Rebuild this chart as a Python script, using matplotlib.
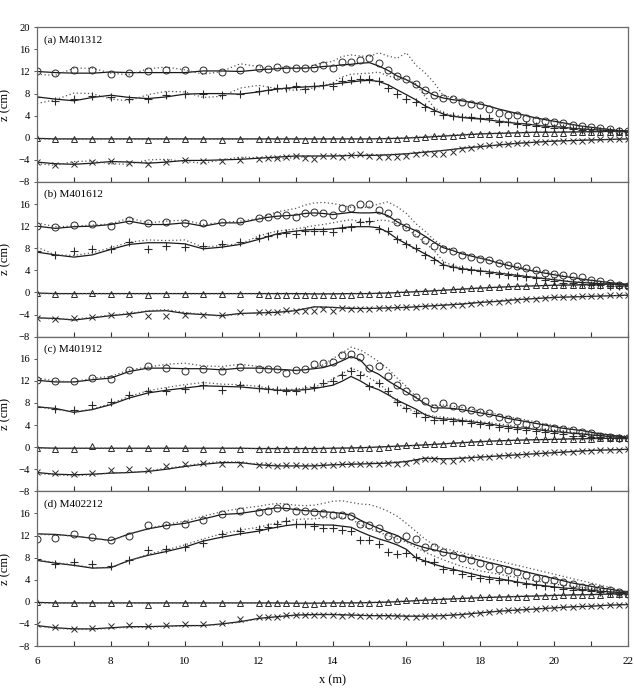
import matplotlib
matplotlib.use('Agg')
import matplotlib.pyplot as plt
from matplotlib.ticker import FixedLocator

plt.rcParams['font.family'] = ['Liberation Serif', 'DejaVu Serif']

# measurement x positions (m)
X = [6, 6.5, 7, 7.5, 8, 8.5, 9, 9.5, 10, 10.5, 11, 11.5, 12,
     12.25, 12.5, 12.75, 13, 13.25, 13.5, 13.75, 14, 14.25, 14.5, 14.75, 15,
     15.25, 15.5, 15.75, 16, 16.25, 16.5, 16.75, 17, 17.25, 17.5, 17.75, 18,
     18.25, 18.5, 18.75, 19, 19.25, 19.5, 19.75, 20, 20.25, 20.5, 20.75, 21,
     21.25, 21.5, 21.75, 22]
# coarse x positions for the lower two model curves
XC = [6, 6.5, 7, 7.5, 8, 8.5, 9, 9.5, 10, 10.5, 11, 11.5, 12, 12.5, 13, 13.5,
      14, 14.5, 15, 15.5, 16, 16.5, 17, 17.5, 18, 18.5, 19, 19.5, 20, 20.5,
      21, 21.5, 22]

labels = ["(a) M401312", "(b) M401612", "(c) M401912", "(d) M402212"]

# ---------------- panel (a) ----------------
a_o = [12.0, 11.8, 12.2, 12.3, 11.5, 11.7, 12.0, 12.2, 12.2, 12.2, 11.9, 12.2, 12.6,
       12.4, 12.9, 12.4, 12.7, 12.6, 12.7, 13.2, 12.7, 13.8, 13.8, 14.0, 14.4,
       13.6, 12.3, 11.2, 10.7, 9.7, 8.7, 7.8, 7.2, 7.0, 6.5, 6.2, 5.9,
       5.3, 4.5, 4.2, 4.1, 3.6, 3.3, 3.0, 2.8, 2.6, 2.4, 2.1, 2.0, 1.8, 1.5, 1.3, 1.2]
a_o_s = [12.0, 11.8, 11.7, 11.7, 11.9, 11.8, 11.8, 11.8, 11.8, 12.1, 12.1, 12.0, 12.3,
         12.4, 12.5, 12.6, 12.6, 12.6, 12.7, 12.9, 13.0, 13.2, 13.3, 13.5, 13.6,
         13.0, 12.2, 11.2, 10.5, 9.6, 8.6, 7.7, 7.2, 6.9, 6.7, 6.4, 6.1,
         5.7, 5.2, 4.8, 4.4, 4.0, 3.6, 3.3, 3.0, 2.7, 2.4, 2.1, 1.9, 1.7, 1.5, 1.3, 1.2]
a_o_d = [11.5, 11.3, 12.6, 12.6, 11.7, 11.4, 12.5, 12.8, 12.3, 11.5, 12.0, 13.4, 12.9,
         12.4, 12.6, 12.8, 12.7, 12.7, 13.2, 13.6, 13.8, 14.7, 15.0, 14.8, 14.7,
         15.4, 14.8, 14.4, 15.4, 13.2, 11.8, 10.0, 7.6, 7.3, 6.8, 6.5, 6.1,
         5.6, 5.1, 4.7, 4.3, 3.9, 3.5, 3.2, 2.9, 2.6, 2.3, 2.1, 1.9, 1.7, 1.5, 1.3, 1.2]
a_p = [7.4, 6.7, 7.0, 7.6, 7.3, 7.1, 7.1, 7.7, 8.0, 8.0, 7.8, 7.9, 8.4,
       8.7, 9.0, 9.1, 9.3, 8.9, 9.3, 9.5, 9.3, 10.3, 10.4, 10.7, 10.7,
       10.3, 9.1, 7.9, 7.1, 6.4, 5.6, 4.8, 4.1, 3.9, 3.8, 3.8, 3.6,
       3.5, 2.9, 2.8, 2.5, 2.4, 2.2, 1.9, 1.8, 1.7, 1.5, 1.4, 1.3, 1.3, 1.2, 1.15, 1.1]
a_p_s = [7.4, 7.0, 6.7, 7.3, 7.7, 7.3, 7.1, 7.4, 7.9, 8.0, 8.0, 7.9, 8.3,
         8.6, 8.8, 9.0, 9.1, 9.2, 9.3, 9.4, 9.7, 9.9, 10.1, 10.3, 10.4,
         10.2, 9.6, 8.7, 7.8, 6.9, 5.8, 5.0, 4.3, 3.9, 3.7, 3.5, 3.4,
         3.2, 3.0, 2.8, 2.6, 2.5, 2.3, 2.1, 2.0, 1.9, 1.7, 1.6, 1.5, 1.4, 1.3, 1.3, 1.2]
a_p_d = [6.2, 6.9, 8.1, 8.0, 7.0, 6.7, 7.8, 8.4, 8.3, 7.3, 7.5, 9.0, 9.5,
         9.2, 8.9, 8.7, 8.6, 8.8, 9.0, 9.4, 9.9, 11.0, 11.5, 11.6, 11.7,
         11.9, 11.2, 10.8, 10.6, 9.8, 7.5, 5.5, 4.5, 4.1, 3.9, 3.7, 3.5,
         3.3, 3.1, 2.9, 2.7, 2.5, 2.3, 2.2, 2.0, 1.9, 1.7, 1.6, 1.5, 1.4, 1.3, 1.3, 1.2]
a_t = [-0.1, -0.2, -0.3, -0.3, -0.2, -0.2, -0.4, -0.3, -0.3, -0.3, -0.4, -0.3, -0.3,
       -0.3, -0.3, -0.3, -0.3, -0.4, -0.3, -0.3, -0.3, -0.3, -0.3, -0.3, -0.3,
       -0.3, -0.2, -0.2, -0.1, 0.0, 0.2, 0.3, 0.3, 0.4, 0.5, 0.6, 0.6,
       0.7, 0.7, 0.8, 0.8, 0.8, 0.8, 0.9, 0.9, 0.9, 1.0, 1.0, 1.0, 1.0, 1.0, 1.1, 1.1]
a_t_s = [-0.1, -0.2, -0.2, -0.2, -0.2, -0.2, -0.2, -0.2, -0.2, -0.2, -0.2, -0.2, -0.2,
         -0.2, -0.2, -0.2, -0.2, -0.2, -0.2, -0.15, -0.05, 0.1, 0.3, 0.5, 0.7, 0.8,
         0.9, 1.0, 1.0, 1.05, 1.1, 1.15, 1.2]
a_t_d = [-0.2, -0.25, -0.3, -0.25, -0.2, -0.25, -0.3, -0.25, -0.2, -0.25, -0.3, -0.25,
         -0.2, -0.25, -0.2, -0.2, -0.2, -0.2, -0.15, -0.1, 0.0, 0.2, 0.4, 0.6, 0.75,
         0.85, 0.95, 1.0, 1.05, 1.1, 1.1, 1.15, 1.2]
a_x = [-4.4, -5.0, -4.8, -4.4, -4.2, -4.5, -4.8, -4.4, -4.1, -4.2, -4.2, -4.1, -3.8,
       -3.6, -3.6, -3.5, -3.3, -3.6, -3.8, -3.3, -3.3, -3.5, -3.2, -2.9, -3.3,
       -3.5, -3.5, -3.5, -3.3, -3.0, -2.7, -2.85, -2.85, -2.6, -2.1, -1.8, -1.5,
       -1.3, -1.2, -1.1, -0.9, -0.9, -0.8, -0.7, -0.7, -0.6, -0.5, -0.5, -0.4,
       -0.3, -0.3, -0.3, -0.2]
a_x_s = [-4.4, -4.7, -4.8, -4.6, -4.3, -4.4, -4.6, -4.4, -4.1, -4.1, -4.0, -3.9, -3.7,
         -3.5, -3.3, -3.3, -3.3, -3.2, -3.2, -3.1, -2.9, -2.6, -2.3, -1.9, -1.6,
         -1.3, -1.0, -0.8, -0.6, -0.5, -0.4, -0.3, -0.2]
a_x_d = [-4.7, -5.0, -4.3, -4.2, -4.7, -4.8, -4.0, -3.9, -4.3, -4.6, -4.0, -3.5, -3.6,
         -3.8, -3.6, -3.3, -3.2, -3.2, -3.1, -3.0, -2.9, -2.6, -2.3, -1.9, -1.6,
         -1.3, -1.0, -0.8, -0.6, -0.5, -0.4, -0.3, -0.2]

# ---------------- panel (b) ----------------
b_o = [12.0, 11.8, 12.2, 12.4, 12.1, 13.1, 12.5, 12.7, 12.5, 12.5, 12.8, 12.9, 13.5,
       13.6, 14.1, 14.1, 13.7, 14.4, 14.5, 14.4, 14.1, 15.3, 15.2, 16.1, 16.1,
       15.0, 14.3, 12.7, 11.9, 10.7, 9.5, 8.5, 7.9, 7.5, 6.8, 6.4, 6.1,
       5.8, 5.3, 5.0, 4.7, 4.4, 4.1, 3.6, 3.3, 3.2, 2.9, 2.8, 2.3, 2.0, 1.7, 1.4, 1.2]
b_o_s = [12.0, 11.6, 11.9, 12.0, 12.3, 12.9, 12.3, 12.3, 12.6, 12.0, 12.6, 12.6, 13.3,
         13.6, 13.8, 13.9, 14.0, 14.3, 14.4, 14.3, 14.1, 14.3, 14.5, 14.4, 14.4,
         14.5, 13.9, 12.8, 11.9, 11.2, 10.2, 9.1, 8.1, 7.6, 7.0, 6.6, 6.2,
         5.8, 5.3, 4.9, 4.5, 4.1, 3.8, 3.5, 3.2, 2.9, 2.7, 2.4, 2.2, 2.0, 1.8, 1.6, 1.4]
b_o_d = [12.6, 11.9, 12.0, 12.2, 12.4, 13.5, 12.6, 12.9, 13.1, 12.3, 12.7, 12.9, 13.4,
         14.0, 14.6, 14.9, 15.2, 15.8, 16.2, 16.3, 16.1, 15.8, 15.4, 15.3, 15.5,
         16.0, 16.4, 15.5, 14.3, 12.5, 11.1, 9.5, 8.4, 7.7, 7.1, 6.7, 6.3,
         5.9, 5.5, 5.1, 4.7, 4.3, 4.0, 3.7, 3.4, 3.1, 2.8, 2.5, 2.3, 2.0, 1.8, 1.6, 1.4]
b_p = [7.5, 6.8, 7.5, 7.8, 7.9, 9.1, 7.9, 8.4, 8.2, 8.4, 8.8, 9.2, 9.8,
       10.2, 10.6, 10.8, 10.5, 11.1, 11.1, 11.1, 11.0, 11.7, 11.9, 12.8, 12.9,
       11.5, 11.1, 9.6, 8.8, 8.1, 6.7, 5.9, 5.0, 4.6, 4.2, 4.1, 3.8,
       3.6, 3.4, 3.2, 3.0, 2.8, 2.6, 2.3, 2.1, 1.8, 1.7, 1.5, 1.4, 1.3, 1.2, 1.15, 1.1]
b_p_s = [7.3, 6.8, 6.4, 6.8, 7.8, 8.7, 9.0, 9.0, 8.8, 7.9, 8.2, 8.7, 9.6,
         10.1, 10.6, 10.9, 11.1, 11.3, 11.4, 11.4, 11.5, 11.7, 11.9, 11.9, 11.9,
         11.7, 10.9, 9.7, 8.8, 7.9, 7.0, 6.1, 5.0, 4.6, 4.3, 4.1, 3.9,
         3.7, 3.5, 3.3, 3.1, 2.9, 2.7, 2.5, 2.3, 2.1, 1.9, 1.8, 1.7, 1.6, 1.5, 1.4, 1.3]
b_p_d = [8.2, 6.8, 6.7, 7.2, 8.1, 9.1, 9.5, 9.4, 9.5, 8.2, 8.5, 8.8, 10.2,
         10.7, 11.1, 11.3, 11.5, 11.8, 12.1, 12.3, 12.6, 12.9, 13.2, 12.8, 12.6,
         13.1, 13.0, 12.4, 11.6, 10.4, 9.0, 7.6, 5.6, 4.9, 4.5, 4.2, 4.0,
         3.8, 3.6, 3.4, 3.2, 3.0, 2.8, 2.6, 2.4, 2.2, 2.0, 1.9, 1.8, 1.7, 1.6, 1.5, 1.4]
b_t = [-0.1, -0.3, -0.3, -0.1, -0.3, -0.3, -0.4, -0.3, -0.3, -0.3, -0.3, -0.3, -0.3,
       -0.4, -0.4, -0.4, -0.4, -0.4, -0.4, -0.4, -0.4, -0.4, -0.4, -0.3, -0.3,
       -0.3, -0.2, -0.1, 0.0, 0.1, 0.2, 0.2, 0.4, 0.6, 0.6, 0.8, 0.8,
       0.9, 1.0, 1.1, 1.1, 1.2, 1.3, 1.3, 1.3, 1.4, 1.4, 1.4, 1.4, 1.4, 1.4, 1.4, 1.4]
b_t_s = [-0.1, -0.2, -0.2, -0.2, -0.2, -0.2, -0.2, -0.2, -0.2, -0.2, -0.2, -0.2, -0.2,
         -0.2, -0.2, -0.25, -0.25, -0.2, -0.2, -0.1, 0.05, 0.2, 0.4, 0.6, 0.8, 0.95,
         1.1, 1.2, 1.3, 1.35, 1.4, 1.5, 1.5]
b_t_d = [-0.2, -0.25, -0.25, -0.2, -0.25, -0.25, -0.25, -0.2, -0.25, -0.25, -0.25, -0.2,
         -0.25, -0.25, -0.3, -0.3, -0.3, -0.25, -0.2, -0.1, 0.1, 0.25, 0.45, 0.65, 0.85,
         1.0, 1.1, 1.2, 1.3, 1.35, 1.4, 1.45, 1.5]
b_x = [-4.7, -4.8, -4.7, -4.4, -4.0, -3.9, -4.2, -4.2, -4.1, -4.1, -4.1, -3.6, -3.5,
       -3.5, -3.5, -3.2, -3.3, -3.3, -3.3, -3.0, -3.3, -2.8, -3.0, -3.0, -3.0,
       -2.8, -2.8, -2.7, -2.7, -2.7, -2.5, -2.5, -2.5, -2.2, -2.2, -2.1, -1.9,
       -1.8, -1.7, -1.5, -1.3, -1.2, -1.1, -1.0, -0.9, -0.85, -0.8, -0.7, -0.7,
       -0.6, -0.55, -0.5, -0.4]
b_x_s = [-4.6, -4.7, -5.0, -4.6, -4.2, -3.9, -3.4, -3.3, -3.8, -4.0, -4.2, -3.8, -3.7,
         -3.6, -3.3, -2.6, -2.7, -2.9, -2.9, -2.8, -2.7, -2.5, -2.3, -2.1, -1.8,
         -1.6, -1.3, -1.1, -0.9, -0.8, -0.7, -0.6, -0.5]
b_x_d = [-4.5, -4.9, -4.8, -4.5, -4.1, -3.8, -3.3, -3.1, -3.6, -4.0, -4.3, -3.9, -3.7,
         -3.5, -3.2, -2.7, -2.7, -2.8, -2.9, -2.8, -2.7, -2.5, -2.3, -2.1, -1.8,
         -1.6, -1.3, -1.1, -0.9, -0.8, -0.7, -0.6, -0.5]

# ---------------- panel (c) ----------------
c_o = [12.1, 11.9, 11.9, 12.6, 12.4, 13.9, 14.6, 14.3, 13.8, 14.2, 13.7, 14.5, 14.1,
       14.1, 14.1, 13.5, 14.0, 14.1, 15.0, 15.2, 15.5, 16.7, 16.9, 16.3, 14.3,
       14.6, 12.8, 11.3, 10.2, 9.1, 8.3, 7.1, 8.0, 7.5, 7.1, 6.8, 6.4,
       6.2, 5.4, 5.1, 4.7, 4.1, 4.1, 3.7, 3.5, 3.2, 3.1, 2.8, 2.5, 2.1, 1.9, 1.7, 1.6]
c_o_s = [12.1, 11.8, 11.8, 12.2, 12.5, 13.7, 14.3, 14.3, 14.2, 14.2, 14.0, 14.3, 14.3,
         14.2, 14.1, 14.0, 13.9, 14.0, 14.2, 14.4, 14.9, 15.6, 16.4, 15.8, 14.0,
         13.2, 12.0, 11.0, 10.0, 9.0, 7.9, 7.1, 7.1, 7.0, 6.8, 6.5, 6.2,
         5.9, 5.6, 5.2, 4.9, 4.6, 4.3, 4.0, 3.7, 3.4, 3.2, 3.0, 2.7, 2.4, 2.2, 2.0, 1.8]
c_o_d = [12.5, 12.0, 11.8, 12.5, 12.8, 14.0, 14.5, 15.0, 15.2, 14.7, 14.6, 15.0, 14.6,
         14.3, 14.0, 13.8, 13.8, 14.1, 14.4, 14.9, 16.0, 17.0, 18.1, 17.6, 16.6,
         15.5, 14.2, 12.5, 11.0, 9.2, 7.9, 7.6, 7.6, 7.4, 7.2, 6.9, 6.5,
         6.2, 5.9, 5.5, 5.2, 4.9, 4.6, 4.2, 3.9, 3.6, 3.3, 3.0, 2.8, 2.5, 2.3, 2.1, 2.0]
c_p = [7.3, 6.9, 6.8, 7.7, 8.1, 9.5, 10.1, 10.2, 10.5, 11.3, 10.3, 11.3, 10.7,
       10.5, 10.3, 10.1, 10.2, 10.5, 10.9, 11.6, 11.9, 13.1, 13.7, 13.1, 11.1,
       11.6, 10.1, 8.1, 7.1, 6.2, 5.5, 5.0, 5.0, 4.8, 4.7, 4.4, 4.1,
       4.0, 3.7, 3.5, 3.3, 3.1, 2.9, 2.7, 2.6, 2.3, 2.1, 2.0, 1.9, 1.8, 1.7, 1.6, 1.6]
c_p_s = [7.3, 7.0, 6.3, 6.8, 7.7, 8.9, 9.8, 10.3, 10.7, 11.1, 11.0, 10.9, 10.6,
         10.5, 10.3, 10.3, 10.3, 10.4, 10.6, 10.9, 11.2, 11.9, 12.8, 12.0, 11.0,
         10.4, 9.5, 8.5, 7.7, 6.9, 5.9, 5.3, 5.1, 5.0, 4.8, 4.6, 4.4,
         4.2, 3.9, 3.7, 3.5, 3.4, 3.2, 3.0, 2.8, 2.7, 2.5, 2.4, 2.2, 2.1, 1.9, 1.8, 1.7]
c_p_d = [7.3, 6.8, 6.4, 6.9, 7.9, 9.2, 10.2, 10.8, 11.3, 11.7, 11.4, 11.3, 11.0,
         10.7, 10.5, 10.4, 10.5, 10.7, 11.0, 11.3, 12.3, 13.2, 14.3, 13.7, 12.5,
         11.6, 10.0, 7.9, 7.0, 6.4, 5.9, 5.6, 5.4, 5.2, 5.0, 4.8, 4.6,
         4.4, 4.2, 4.0, 3.8, 3.6, 3.4, 3.2, 3.0, 2.9, 2.7, 2.5, 2.4, 2.2, 2.1, 1.9, 1.8]
c_t = [-0.1, -0.3, -0.3, 0.2, -0.2, -0.2, -0.2, -0.2, -0.2, -0.3, -0.3, -0.3, -0.3,
       -0.3, -0.3, -0.3, -0.3, -0.4, -0.3, -0.3, -0.3, -0.3, -0.2, -0.2, -0.1,
       -0.1, 0.05, 0.2, 0.3, 0.35, 0.5, 0.5, 0.6, 0.8, 0.8, 0.9, 1.0,
       1.1, 1.2, 1.2, 1.25, 1.3, 1.4, 1.4, 1.4, 1.5, 1.5, 1.5, 1.5, 1.6, 1.6, 1.6, 1.6]
c_t_s = [-0.1, -0.2, -0.2, -0.2, -0.2, -0.2, -0.2, -0.2, -0.2, -0.2, -0.2, -0.2, -0.25,
         -0.25, -0.25, -0.25, -0.2, -0.15, -0.05, 0.1, 0.25, 0.4, 0.6, 0.8, 1.0,
         1.15, 1.25, 1.35, 1.4, 1.5, 1.55, 1.6, 1.6]
c_t_d = [-0.2, -0.25, -0.25, -0.2, -0.2, -0.25, -0.25, -0.2, -0.25, -0.25, -0.25, -0.2,
         -0.3, -0.3, -0.3, -0.3, -0.25, -0.2, -0.1, 0.05, 0.2, 0.4, 0.6, 0.8, 0.95,
         1.1, 1.25, 1.35, 1.4, 1.5, 1.55, 1.6, 1.65]
c_x = [-4.5, -4.7, -4.8, -4.6, -4.1, -3.9, -4.1, -3.5, -3.1, -2.9, -3.0, -3.0, -3.3,
       -3.3, -3.4, -3.3, -3.3, -3.4, -3.4, -3.3, -3.2, -3.1, -3.1, -3.1, -3.1,
       -3.0, -2.8, -3.1, -2.8, -2.6, -2.2, -2.2, -2.5, -2.5, -2.2, -1.9, -1.8,
       -1.8, -1.6, -1.5, -1.4, -1.3, -1.1, -1.0, -0.9, -0.85, -0.8, -0.7, -0.65,
       -0.6, -0.55, -0.5, -0.4]
c_x_s = [-4.6, -4.9, -5.0, -4.9, -4.7, -4.6, -4.4, -4.0, -3.5, -3.1, -2.8, -2.8, -3.2,
         -3.4, -3.4, -3.4, -3.2, -3.1, -3.0, -2.9, -2.6, -2.0, -2.1, -2.0, -1.8,
         -1.6, -1.4, -1.2, -1.0, -0.8, -0.6, -0.5, -0.4]
c_x_d = [-4.8, -5.0, -5.2, -5.0, -4.7, -4.6, -4.3, -3.8, -3.4, -2.9, -2.6, -2.7, -3.1,
         -3.3, -3.4, -3.3, -3.2, -3.0, -2.9, -2.8, -2.6, -2.4, -2.2, -2.0, -1.8,
         -1.6, -1.4, -1.2, -1.0, -0.8, -0.6, -0.5, -0.4]

# ---------------- panel (d) ----------------
d_o = [11.4, 11.5, 12.3, 11.7, 11.1, 12.0, 13.9, 13.9, 14.1, 14.8, 15.9, 16.4, 16.2,
       16.5, 17.0, 17.1, 16.5, 16.5, 16.3, 16.0, 15.8, 15.8, 15.6, 14.1, 13.9,
       13.3, 12.0, 11.4, 12.0, 11.3, 10.0, 10.0, 9.0, 8.4, 8.0, 7.5, 7.0,
       6.4, 6.0, 5.7, 5.4, 4.8, 4.4, 4.2, 4.0, 3.6, 3.2, 2.7, 2.6, 2.4, 2.1, 1.8, 1.5]
d_o_s = [12.3, 12.2, 11.9, 11.5, 11.1, 12.3, 13.2, 13.8, 14.2, 15.0, 15.8, 16.0, 16.5,
         16.8, 17.0, 16.9, 16.7, 16.5, 16.4, 16.3, 16.2, 16.0, 15.7, 14.8, 14.0,
         13.3, 12.6, 12.0, 11.0, 10.3, 9.8, 9.4, 9.0, 8.7, 8.3, 7.9, 7.5,
         7.1, 6.7, 6.3, 5.8, 5.4, 5.0, 4.6, 4.2, 3.8, 3.4, 3.1, 2.8, 2.5, 2.3, 2.0, 1.8]
d_o_d = [12.2, 12.1, 11.9, 11.5, 11.1, 12.2, 13.3, 14.0, 14.6, 15.5, 16.3, 16.9, 17.3,
         17.6, 17.8, 17.7, 17.5, 17.4, 17.5, 17.8, 18.2, 18.3, 18.0, 17.7, 17.6,
         17.1, 16.4, 15.5, 14.2, 12.8, 11.4, 10.2, 9.7, 9.3, 8.9, 8.5, 8.2,
         7.8, 7.4, 7.0, 6.6, 6.2, 5.8, 5.4, 5.0, 4.6, 4.2, 3.8, 3.4, 3.0, 2.6, 2.2, 1.8]
d_p = [7.8, 6.9, 7.2, 6.8, 6.4, 7.6, 9.3, 9.6, 10.0, 10.7, 12.2, 12.9, 13.2,
       13.6, 14.1, 14.7, 14.1, 14.0, 13.8, 13.4, 13.4, 13.0, 12.8, 11.2, 11.1,
       10.5, 9.0, 8.7, 8.8, 8.2, 7.4, 7.2, 6.0, 5.7, 5.0, 4.6, 4.4,
       4.2, 4.0, 3.9, 3.6, 3.3, 3.0, 2.8, 2.6, 2.4, 2.2, 2.1, 2.0, 1.8, 1.6, 1.5, 1.4]
d_p_s = [7.5, 7.0, 6.6, 6.1, 6.2, 7.5, 8.4, 9.1, 9.9, 11.0, 11.7, 12.3, 12.8,
         13.2, 13.5, 13.8, 14.0, 14.0, 14.0, 13.9, 13.9, 13.7, 13.5, 12.7, 12.0,
         11.4, 10.9, 10.3, 9.5, 8.0, 7.4, 6.8, 6.3, 5.9, 5.5, 5.1, 4.7,
         4.4, 4.2, 3.9, 3.6, 3.3, 3.1, 2.9, 2.7, 2.5, 2.4, 2.2, 2.1, 1.9, 1.8, 1.7, 1.6]
d_p_d = [7.6, 7.1, 6.7, 6.2, 6.2, 7.4, 8.6, 9.4, 10.3, 11.4, 12.3, 13.0, 13.5,
         13.9, 14.3, 14.6, 14.9, 15.0, 15.0, 15.2, 15.3, 15.3, 15.0, 14.0, 13.2,
         12.6, 12.0, 11.4, 10.8, 9.9, 9.0, 8.3, 7.6, 7.0, 6.4, 6.0, 5.6,
         5.3, 5.0, 4.7, 4.4, 4.1, 3.8, 3.5, 3.2, 3.0, 2.8, 2.6, 2.4, 2.2, 2.0, 1.9, 1.8]
d_t = [0.0, -0.3, -0.3, -0.3, -0.3, -0.3, -0.5, -0.3, -0.3, -0.3, -0.2, -0.3, -0.2,
       -0.2, -0.3, -0.3, -0.3, -0.4, -0.4, -0.3, -0.3, -0.2, -0.2, -0.2, -0.2,
       -0.2, 0.0, 0.1, 0.3, 0.3, 0.4, 0.4, 0.4, 0.6, 0.6, 0.6, 0.8,
       0.8, 0.9, 0.9, 0.9, 0.9, 1.0, 1.0, 1.1, 1.2, 1.2, 1.3, 1.3, 1.3, 1.4, 1.4, 1.5]
d_t_s = [-0.1, -0.2, -0.2, -0.2, -0.2, -0.2, -0.2, -0.2, -0.2, -0.2, -0.2, -0.2, -0.2,
         -0.2, -0.25, -0.25, -0.2, -0.2, -0.15, -0.05, 0.1, 0.3, 0.45, 0.6, 0.75,
         0.85, 0.95, 1.05, 1.15, 1.25, 1.3, 1.4, 1.5]
d_t_d = [-0.2, -0.25, -0.25, -0.25, -0.2, -0.25, -0.25, -0.2, -0.25, -0.25, -0.2, -0.2,
         -0.25, -0.25, -0.3, -0.3, -0.25, -0.2, -0.1, 0.0, 0.15, 0.3, 0.5, 0.65, 0.8,
         0.9, 1.0, 1.1, 1.2, 1.25, 1.35, 1.45, 1.5]
d_x = [-4.0, -4.6, -5.0, -4.8, -4.4, -4.2, -4.4, -4.2, -4.0, -4.1, -3.8, -3.2, -2.8,
       -2.8, -2.7, -2.4, -2.3, -2.3, -2.4, -2.4, -2.3, -2.6, -2.4, -2.6, -2.6,
       -2.6, -2.6, -2.6, -2.8, -2.8, -2.6, -2.6, -2.6, -2.4, -2.4, -2.2, -2.1,
       -1.8, -1.6, -1.5, -1.4, -1.3, -1.25, -1.2, -1.15, -1.0, -0.9, -0.8, -0.75,
       -0.7, -0.6, -0.55, -0.5]
d_x_s = [-4.3, -4.7, -4.9, -4.9, -4.7, -4.5, -4.5, -4.4, -4.3, -4.3, -4.0, -3.6, -3.0,
         -2.7, -2.4, -2.3, -2.3, -2.4, -2.5, -2.5, -2.6, -2.6, -2.5, -2.3, -2.0,
         -1.7, -1.5, -1.3, -1.1, -0.9, -0.8, -0.6, -0.5]
d_x_d = [-4.4, -4.8, -5.0, -5.0, -4.8, -4.6, -4.6, -4.5, -4.4, -4.3, -4.1, -3.7, -3.1,
         -2.8, -2.5, -2.4, -2.3, -2.4, -2.5, -2.6, -2.7, -2.6, -2.5, -2.3, -2.0,
         -1.7, -1.5, -1.3, -1.1, -0.9, -0.8, -0.6, -0.5]

panels = [
    (a_o, a_o_s, a_o_d, a_p, a_p_s, a_p_d, a_t, a_t_s, a_t_d, a_x, a_x_s, a_x_d),
    (b_o, b_o_s, b_o_d, b_p, b_p_s, b_p_d, b_t, b_t_s, b_t_d, b_x, b_x_s, b_x_d),
    (c_o, c_o_s, c_o_d, c_p, c_p_s, c_p_d, c_t, c_t_s, c_t_d, c_x, c_x_s, c_x_d),
    (d_o, d_o_s, d_o_d, d_p, d_p_s, d_p_d, d_t, d_t_s, d_t_d, d_x, d_x_s, d_x_d),
]

W, H = 634, 691
fig = plt.figure(figsize=(W / 100, H / 100), dpi=100)
gs = fig.add_gridspec(4, 1, left=37 / W, right=628 / W, top=1 - 27.3 / H,
                      bottom=1 - 646 / H, hspace=0)

line_c = '#1a1a1a'
dot_c = '#555555'
mk_c = '#2a2a2a'
spine_c = '#6a6a6a'
dotted = (0, (1.0, 2.0))

for i, (lab, data) in enumerate(zip(labels, panels)):
    (o, o_s, o_d, p, p_s, p_d, t, t_s, t_d, xx, x_s, x_d) = data
    ax = fig.add_subplot(gs[i, 0])
    # model curves
    ax.plot(X, o_s, color=line_c, lw=0.9)
    ax.plot(X, o_d, color=dot_c, lw=0.9, ls=dotted)
    ax.plot(X, p_s, color=line_c, lw=0.9)
    ax.plot(X, p_d, color=dot_c, lw=0.9, ls=dotted)
    ax.plot(XC, t_s, color=line_c, lw=0.9)
    ax.plot(XC, t_d, color=dot_c, lw=0.9, ls=dotted)
    ax.plot(XC, x_s, color=line_c, lw=0.9)
    ax.plot(XC, x_d, color=dot_c, lw=0.9, ls=dotted)
    # measurements
    ax.plot(X, o, ls='none', marker='o', ms=5, mfc='none', mec=mk_c, mew=0.7)
    ax.plot(X, p, ls='none', marker='+', ms=6, mec=mk_c, mew=0.8)
    ax.plot(X, t, ls='none', marker='^', ms=4.3, mfc='none', mec=mk_c, mew=0.7)
    ax.plot(X, xx, ls='none', marker='x', ms=4.3, mec=mk_c, mew=0.7)

    ax.set_xlim(6, 22)
    ax.set_ylim(-8, 20)
    yt = [-8, -4, 0, 4, 8, 12, 16, 20] if i == 0 else [-8, -4, 0, 4, 8, 12, 16]
    ax.yaxis.set_major_locator(FixedLocator(yt))
    ax.xaxis.set_major_locator(FixedLocator([6, 8, 10, 12, 14, 16, 18, 20, 22]))
    ax.xaxis.set_minor_locator(FixedLocator([7, 9, 11, 13, 15, 17, 19, 21]))
    ax.tick_params(axis='x', which='both', direction='in', length=3.5, width=0.8,
                   color='#333333', top=False, labelsize=8, pad=8)
    ax.tick_params(axis='y', direction='out', length=2.5, width=0.7,
                   color='#555555', labelsize=7.7, pad=2.5)
    if i < 3:
        ax.tick_params(axis='x', which='both', labelbottom=False)
    for s in ax.spines.values():
        s.set_color(spine_c)
        s.set_linewidth(0.9)
    ax.set_ylabel('z (cm)', fontsize=9)
    ax.yaxis.set_label_coords(-0.043, 0.5)
    ax.text(0.011, 0.918, lab, transform=ax.transAxes, fontsize=8,
            ha='left', va='center')
    if i == 3:
        ax.set_xlabel('x (m)', fontsize=9, labelpad=6)

fig.savefig('out.png', dpi=100)
